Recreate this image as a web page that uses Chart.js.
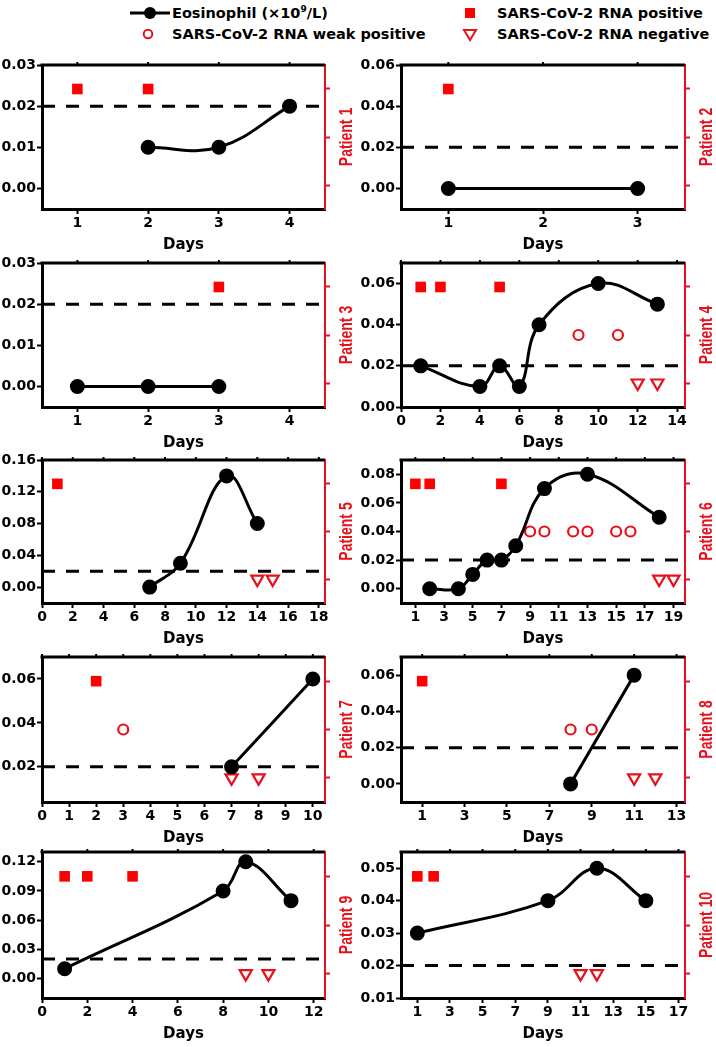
<!DOCTYPE html>
<html>
<head>
<meta charset="utf-8">
<script src="https://cdn.jsdelivr.net/npm/chart.js@4.4.1/dist/chart.umd.min.js"></script>
<style>
  body { margin: 0; background: #fff; width: 716px; height: 1047px; position: relative; overflow: hidden; }
  canvas { position: absolute; }
  .lg { position: absolute; font: bold 14.5px "DejaVu Sans", sans-serif; color: #000; white-space: nowrap; line-height: 18px; }
  .lg sup { font-size: 9px; vertical-align: 6px; line-height: 0; }
  svg { position: absolute; overflow: visible; }
</style>
</head>
<body>

<svg style="left:130px;top:6px" width="40" height="14"><line x1="0" y1="7" x2="40" y2="7" stroke="#000" stroke-width="3"/><circle cx="20" cy="7" r="6" fill="#000"/></svg>
<div class="lg" style="left:172px;top:4px">Eosinophil (×10<sup>9</sup>/L)</div>
<svg style="left:465px;top:8px" width="10" height="10"><rect x="0" y="0" width="10" height="10" fill="#f00"/></svg>
<div class="lg" style="left:497px;top:4px">SARS-CoV-2 RNA positive</div>
<svg style="left:143px;top:29px" width="10" height="10"><circle cx="5" cy="5" r="4.3" fill="none" stroke="#e8101a" stroke-width="2"/></svg>
<div class="lg" style="left:172px;top:25px">SARS-CoV-2 RNA weak positive</div>
<svg style="left:463px;top:29px" width="14" height="12"><polygon points="1,1 13,1 7,11" fill="none" stroke="#e8101a" stroke-width="2"/></svg>
<div class="lg" style="left:497px;top:25px">SARS-CoV-2 RNA negative</div>

<script>
// eosinophil threshold and RNA result levels on the right axis
const THRESHOLD = 0.02;
const RNA_RANGE = [0.5, 3.5];
const RNA_TICKS = [1, 2, 3];
const POS = 3, WEAK = 2, NEG = 1;

// Patient 1
const days1 = [2, 3, 4];
const eos1 = [0.01, 0.01, 0.02];
const pos1 = [1, 2];
const weak1 = [];
const neg1 = [];
const xTicks1 = [1, 2, 3, 4];
const yTicks1 = [0, 0.01, 0.02, 0.03];
const xRange1 = [0.5, 4.5];
const yRange1 = [-0.005, 0.03];

// Patient 2
const days2 = [1, 3];
const eos2 = [0, 0];
const pos2 = [1];
const weak2 = [];
const neg2 = [];
const xTicks2 = [1, 2, 3];
const yTicks2 = [0, 0.02, 0.04, 0.06];
const xRange2 = [0.5, 3.5];
const yRange2 = [-0.01, 0.06];

// Patient 3
const days3 = [1, 2, 3];
const eos3 = [0, 0, 0];
const pos3 = [3];
const weak3 = [];
const neg3 = [];
const xTicks3 = [1, 2, 3, 4];
const yTicks3 = [0, 0.01, 0.02, 0.03];
const xRange3 = [0.5, 4.5];
const yRange3 = [-0.005, 0.03];

// Patient 4
const days4 = [1, 4, 5, 6, 7, 10, 13];
const eos4 = [0.02, 0.01, 0.02, 0.01, 0.04, 0.06, 0.05];
const pos4 = [1, 2, 5];
const weak4 = [9, 11];
const neg4 = [12, 13];
const xTicks4 = [0, 2, 4, 6, 8, 10, 12, 14];
const yTicks4 = [0, 0.02, 0.04, 0.06];
const xRange4 = [0, 14.4];
const yRange4 = [0, 0.07];

// Patient 5
const days5 = [7, 9, 12, 14];
const eos5 = [0, 0.03, 0.14, 0.08];
const pos5 = [1];
const weak5 = [];
const neg5 = [14, 15];
const xTicks5 = [0, 2, 4, 6, 8, 10, 12, 14, 16, 18];
const yTicks5 = [0, 0.04, 0.08, 0.12, 0.16];
const xRange5 = [0, 18.4];
const yRange5 = [-0.02, 0.16];

// Patient 6
const days6 = [2, 4, 5, 6, 7, 8, 10, 13, 18];
const eos6 = [0, 0, 0.01, 0.02, 0.02, 0.03, 0.07, 0.08, 0.05];
const pos6 = [1, 2, 7];
const weak6 = [9, 10, 12, 13, 15, 16];
const neg6 = [18, 19];
const xTicks6 = [1, 3, 5, 7, 9, 11, 13, 15, 17, 19];
const yTicks6 = [0, 0.02, 0.04, 0.06, 0.08];
const xRange6 = [0, 19.8];
const yRange6 = [-0.01, 0.09];

// Patient 7
const days7 = [7, 10];
const eos7 = [0.02, 0.06];
const pos7 = [2];
const weak7 = [3];
const neg7 = [7, 8];
const xTicks7 = [0, 1, 2, 3, 4, 5, 6, 7, 8, 9, 10];
const yTicks7 = [0.02, 0.04, 0.06];
const xRange7 = [0, 10.45];
const yRange7 = [0.004, 0.07];

// Patient 8
const days8 = [8, 11];
const eos8 = [0, 0.06];
const pos8 = [1];
const weak8 = [8, 9];
const neg8 = [11, 12];
const xTicks8 = [1, 3, 5, 7, 9, 11, 13];
const yTicks8 = [0, 0.02, 0.04, 0.06];
const xRange8 = [0, 13.4];
const yRange8 = [-0.01, 0.07];

// Patient 9
const days9 = [1, 8, 9, 11];
const eos9 = [0.01, 0.09, 0.12, 0.08];
const pos9 = [1, 2, 4];
const weak9 = [];
const neg9 = [9, 10];
const xTicks9 = [0, 2, 4, 6, 8, 10, 12];
const yTicks9 = [0, 0.03, 0.06, 0.09, 0.12];
const xRange9 = [0, 12.5];
const yRange9 = [-0.02, 0.13];

// Patient 10
const days10 = [1, 9, 12, 15];
const eos10 = [0.03, 0.04, 0.05, 0.04];
const pos10 = [1, 2];
const weak10 = [];
const neg10 = [11, 12];
const xTicks10 = [1, 3, 5, 7, 9, 11, 13, 15, 17];
const yTicks10 = [0.01, 0.02, 0.03, 0.04, 0.05];
const xRange10 = [0, 17.4];
const yRange10 = [0.01, 0.055];

const panels = [
  [days1, eos1, pos1, weak1, neg1, xTicks1, yTicks1, xRange1, yRange1],
  [days2, eos2, pos2, weak2, neg2, xTicks2, yTicks2, xRange2, yRange2],
  [days3, eos3, pos3, weak3, neg3, xTicks3, yTicks3, xRange3, yRange3],
  [days4, eos4, pos4, weak4, neg4, xTicks4, yTicks4, xRange4, yRange4],
  [days5, eos5, pos5, weak5, neg5, xTicks5, yTicks5, xRange5, yRange5],
  [days6, eos6, pos6, weak6, neg6, xTicks6, yTicks6, xRange6, yRange6],
  [days7, eos7, pos7, weak7, neg7, xTicks7, yTicks7, xRange7, yRange7],
  [days8, eos8, pos8, weak8, neg8, xTicks8, yTicks8, xRange8, yRange8],
  [days9, eos9, pos9, weak9, neg9, xTicks9, yTicks9, xRange9, yRange9],
  [days10, eos10, pos10, weak10, neg10, xTicks10, yTicks10, xRange10, yRange10]
];

// page layout (plot area edges in px)
const rowTop = [65, 263, 460, 657, 852];
const rowBottom = [209, 407, 603, 802, 998];
const plotLeft = [42, 401];
const plotRight = [325, 685];
const PAD_TOP = 12, X_AXIS_H = 52, CANVAS_W = 358;

const RED = '#e8101a';
const tickFont = { family: 'DejaVu Sans', size: 14, weight: 'bold' };

// dashed threshold, top frame line and rotated patient label
const extras = {
  id: 'extras',
  beforeDatasetsDraw(chart) {
    const { ctx, chartArea: a, scales } = chart;
    const y = scales.y.getPixelForValue(THRESHOLD);
    ctx.save();
    ctx.strokeStyle = '#000';
    ctx.lineWidth = 3;
    ctx.setLineDash([13, 11]);
    ctx.beginPath();
    ctx.moveTo(a.left, y);
    ctx.lineTo(a.right, y);
    ctx.stroke();
    ctx.restore();
  },
  afterDraw(chart, args, opts) {
    const { ctx, chartArea: a, scales } = chart;
    ctx.save();
    ctx.strokeStyle = '#000';
    ctx.lineWidth = 3;
    ctx.beginPath();
    ctx.moveTo(a.left - 1.5, a.top);
    ctx.lineTo(a.right, a.top);
    ctx.stroke();
    ctx.lineWidth = 2;
    scales.x.ticks.forEach(t => {
      const x = scales.x.getPixelForValue(t.value);
      ctx.beginPath();
      ctx.moveTo(x, a.top);
      ctx.lineTo(x, a.top - 3);
      ctx.stroke();
    });
    ctx.translate(a.right + 22, (a.top + a.bottom) / 2);
    ctx.rotate(-Math.PI / 2);
    ctx.scale(1, 1.3);
    ctx.fillStyle = RED;
    ctx.font = 'bold 14px "Liberation Sans"';
    ctx.textAlign = 'center';
    ctx.textBaseline = 'middle';
    ctx.fillText(opts.label, 0, 0);
    ctx.restore();
  }
};

panels.forEach((p, i) => {
  const [days, eos, pos, weak, neg, xTicks, yTicks, xRange, yRange] = p;
  const row = Math.floor(i / 2), col = i % 2;
  const left = col ? 358 : 0;
  const plotH = rowBottom[row] - rowTop[row];
  const cv = document.createElement('canvas');
  cv.width = CANVAS_W;
  cv.height = PAD_TOP + plotH + X_AXIS_H;
  cv.style.left = left + 'px';
  cv.style.top = (rowTop[row] - PAD_TOP) + 'px';
  document.body.appendChild(cv);

  const yW = plotLeft[col] - left;
  const y2W = left + CANVAS_W - plotRight[col];
  const toPts = (arr, lvl) => arr.map(d => ({ x: d, y: lvl }));

  new Chart(cv, {
    type: 'scatter',
    data: {
      datasets: [
        {
          data: days.map((d, k) => ({ x: d, y: eos[k] })),
          yAxisID: 'y',
          showLine: true,
          tension: 0.4,
          borderColor: '#000',
          borderWidth: 3,
          pointRadius: 6,
          pointBackgroundColor: '#000',
          pointBorderColor: '#000',
          clip: false
        },
        {
          data: toPts(pos, POS),
          yAxisID: 'y2',
          pointStyle: 'rect',
          pointRadius: 7.5,
          pointBackgroundColor: '#f00',
          pointBorderColor: '#f00',
          pointBorderWidth: 0,
          clip: false
        },
        {
          data: toPts(weak, WEAK),
          yAxisID: 'y2',
          pointStyle: 'circle',
          pointRadius: 5,
          pointBackgroundColor: 'rgba(0,0,0,0)',
          pointBorderColor: RED,
          pointBorderWidth: 2.2,
          clip: false
        },
        {
          data: toPts(neg, NEG),
          yAxisID: 'y2',
          pointStyle: 'triangle',
          rotation: 180,
          pointRadius: 7,
          pointBackgroundColor: '#fff',
          pointBorderColor: RED,
          pointBorderWidth: 2.2,
          clip: false
        }
      ]
    },
    options: {
      responsive: false,
      animation: false,
      devicePixelRatio: 1,
      events: [],
      layout: { padding: { top: PAD_TOP, left: 0, right: 0, bottom: 0 } },
      plugins: {
        legend: { display: false },
        tooltip: { enabled: false },
        extras: { label: 'Patient ' + (i + 1) }
      },
      scales: {
        x: {
          type: 'linear',
          min: xRange[0],
          max: xRange[1],
          afterBuildTicks: s => { s.ticks = xTicks.map(v => ({ value: v })); },
          afterFit: s => { s.height = X_AXIS_H; },
          ticks: { color: '#000', font: tickFont, padding: 1, callback: v => v },
          grid: { drawOnChartArea: false, tickLength: 5, tickWidth: 2, tickColor: '#000' },
          border: { color: '#000', width: 3 },
          title: { display: true, text: 'Days', color: '#000', font: { family: 'DejaVu Sans', size: 15, weight: 'bold' }, padding: { top: 0, bottom: 7 } }
        },
        y: {
          type: 'linear',
          position: 'left',
          min: yRange[0],
          max: yRange[1],
          afterBuildTicks: s => { s.ticks = yTicks.map(v => ({ value: v })); },
          afterFit: s => { s.width = yW; },
          ticks: { color: '#000', font: tickFont, padding: 1, callback: v => Number(v).toFixed(2) },
          grid: { drawOnChartArea: false, tickLength: 5, tickWidth: 2, tickColor: '#000' },
          border: { color: '#000', width: 3 }
        },
        y2: {
          type: 'linear',
          position: 'right',
          min: RNA_RANGE[0],
          max: RNA_RANGE[1],
          afterBuildTicks: s => { s.ticks = RNA_TICKS.map(v => ({ value: v })); },
          afterFit: s => { s.width = y2W; },
          ticks: { display: true, callback: () => '' },
          grid: { drawOnChartArea: false, tickLength: 5, tickWidth: 2, tickColor: RED },
          border: { color: RED, width: 2 }
        }
      }
    },
    plugins: [extras]
  });
});
</script>
</body>
</html>
